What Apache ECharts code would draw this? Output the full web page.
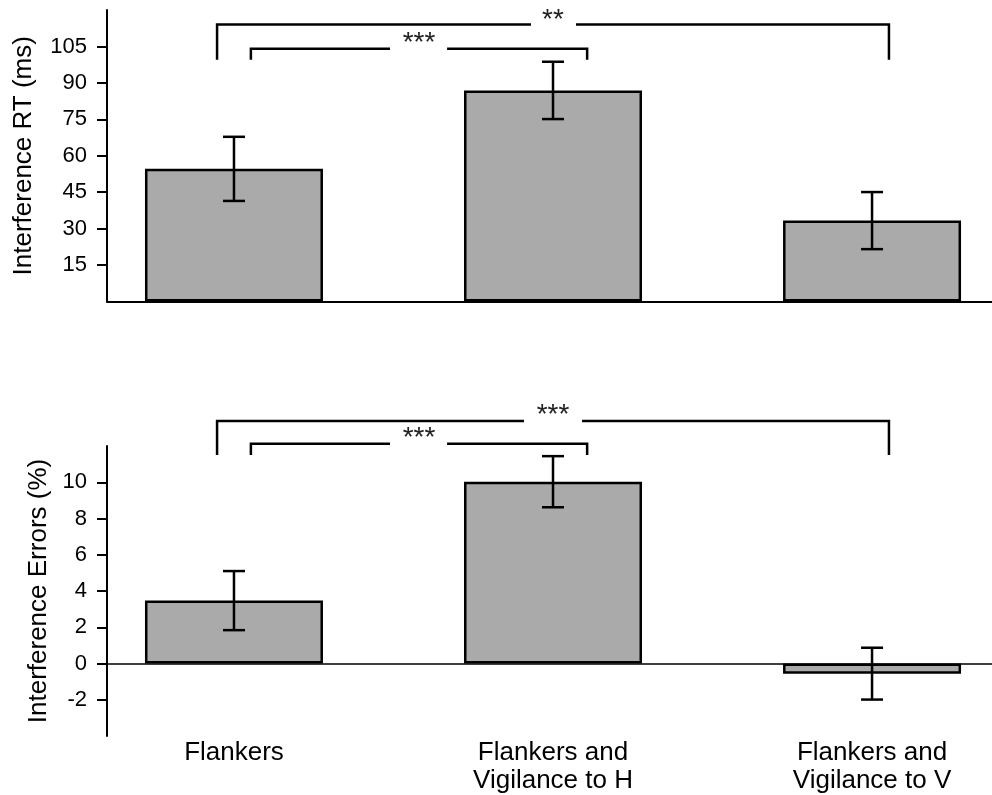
<!DOCTYPE html>
<html><head><meta charset="utf-8">
<script src="https://cdn.jsdelivr.net/npm/echarts@6/dist/echarts.min.js"></script>
<style>html,body{margin:0;padding:0;background:#fff}#c{width:992px;height:795px}</style>
</head><body><div id="c"></div>
<script>
const categories = ['Flankers', 'Flankers and\nVigilance to H', 'Flankers and\nVigilance to V'];
const rtMeans = [54.6, 86.9, 33.3];
const rtErr = [13.2, 11.8, 11.75];
const errMeans = [3.47, 10.03, -0.56];
const errErr = [1.63, 1.41, 1.43];
const rtTicks = [15, 30, 45, 60, 75, 90, 105];
const errTicks = [-2, 0, 2, 4, 6, 8, 10];
// brackets: [x1, x2, yLine, yEnd, gapStart, gapEnd]
const rtBrackets = [[-0.053, 2.053, 114, 99.5, 0.931, 1.072], [0.053, 1.107, 104, 99.5, 0.489, 0.668]];
const rtStars = [[1.0, 118.4, '**'], [0.58, 108.8, '***']];
const errBrackets = [[-0.053, 2.053, 13.38, 11.5, 0.909, 1.091], [0.053, 1.107, 12.12, 11.5, 0.489, 0.668]];
const errStars = [[1.0, 14.05, '***'], [0.58, 12.75, '***']];

const xMin = -0.398, xMax = 2.376;
const FONT = '"Liberation Sans", Arial, sans-serif';
const LW = 2.5;

function errRender(params, api) {
  const x = api.value(0), lo = api.value(1), hi = api.value(2);
  const pLo = api.coord([x, lo]), pHi = api.coord([x, hi]);
  const hw = 11;
  const st = {stroke: '#000', lineWidth: LW, fill: null};
  return {type: 'group', children: [
    {type: 'line', shape: {x1: pHi[0], y1: pHi[1], x2: pLo[0], y2: pLo[1]}, style: st},
    {type: 'line', shape: {x1: pHi[0] - hw, y1: pHi[1], x2: pHi[0] + hw, y2: pHi[1]}, style: st},
    {type: 'line', shape: {x1: pLo[0] - hw, y1: pLo[1], x2: pLo[0] + hw, y2: pLo[1]}, style: st}
  ]};
}
function bracketRender(params, api) {
  const x1 = api.value(0), x2 = api.value(1), yl = api.value(2), ye = api.value(3), g1 = api.value(4), g2 = api.value(5);
  const st = {stroke: '#000', lineWidth: LW, fill: null};
  return {type: 'group', children: [
    {type: 'polyline', shape: {points: [api.coord([x1, ye]), api.coord([x1, yl]), api.coord([g1, yl])]}, style: st},
    {type: 'polyline', shape: {points: [api.coord([g2, yl]), api.coord([x2, yl]), api.coord([x2, ye])]}, style: st}
  ]};
}
function starRender(arr) {
  return function (params, api) {
    const d = arr[params.dataIndex];
    const p = api.coord([d[0], d[1]]);
    return {type: 'text', x: p[0], y: p[1] + 6, style: {text: d[2], fontSize: 28, fontFamily: FONT, fill: '#222', align: 'center', verticalAlign: 'middle'}};
  };
}

const axisBlack = {color: '#000', width: 2};
const chart = echarts.init(document.getElementById('c'));
chart.setOption({
  animation: false,
  textStyle: {fontFamily: FONT},
  grid: [
    {left: 107, right: 0, top: 10, height: 291.5},
    {left: 107, right: 0, top: 446, height: 291}
  ],
  xAxis: [
    {gridIndex: 0, type: 'value', min: xMin, max: xMax,
     axisLine: {show: true, onZero: true, lineStyle: axisBlack},
     axisTick: {show: false}, axisLabel: {show: false}, splitLine: {show: false}},
    {gridIndex: 1, type: 'value', min: xMin, max: xMax, position: 'bottom',
     axisLine: {show: false, onZero: false}, axisTick: {show: false}, splitLine: {show: false},
     axisLabel: {customValues: [0, 1, 2], formatter: v => categories[Math.round(v)],
       fontSize: 26, lineHeight: 28, color: '#000', margin: 3, fontFamily: FONT}},
    {gridIndex: 1, type: 'value', min: xMin, max: xMax,
     axisLine: {show: true, onZero: true, lineStyle: {color: '#000', width: 1.5}},
     axisTick: {show: false}, axisLabel: {show: false}, splitLine: {show: false}}
  ],
  yAxis: [
    {gridIndex: 0, type: 'value', min: 0, max: 120,
     axisLine: {show: true, onZero: false, lineStyle: axisBlack},
     axisTick: {show: true, customValues: rtTicks, length: 10, lineStyle: axisBlack},
     axisLabel: {customValues: rtTicks, fontSize: 22, margin: 20, color: '#000', fontFamily: FONT},
     splitLine: {show: false},
     name: 'Interference RT (ms)', nameLocation: 'middle', nameGap: 70,
     nameTextStyle: {fontSize: 26, color: '#000', fontFamily: FONT}},
    {gridIndex: 1, type: 'value', min: -4, max: 12,
     axisLine: {show: true, onZero: false, lineStyle: axisBlack},
     axisTick: {show: true, customValues: errTicks, length: 10, lineStyle: axisBlack},
     axisLabel: {customValues: errTicks, fontSize: 22, margin: 20, color: '#000', fontFamily: FONT},
     splitLine: {show: false},
     name: 'Interference Errors (%)', nameLocation: 'middle', nameGap: 55,
     nameTextStyle: {fontSize: 26, color: '#000', fontFamily: FONT}}
  ],
  series: [
    {type: 'bar', xAxisIndex: 0, yAxisIndex: 0, barWidth: 178,
     data: rtMeans.map((v, i) => [i, v]),
     itemStyle: {color: '#aaaaaa', borderColor: '#000', borderWidth: 2.5}},
    {type: 'custom', xAxisIndex: 0, yAxisIndex: 0, renderItem: errRender,
     data: rtMeans.map((v, i) => [i, v - rtErr[i], v + rtErr[i]]), z: 5},
    {type: 'custom', xAxisIndex: 0, yAxisIndex: 0, renderItem: bracketRender, data: rtBrackets, z: 5},
    {type: 'custom', xAxisIndex: 0, yAxisIndex: 0, renderItem: starRender(rtStars),
     data: rtStars.map(d => [d[0], d[1]]), z: 6},
    {type: 'bar', xAxisIndex: 1, yAxisIndex: 1, barWidth: 178,
     data: errMeans.map((v, i) => [i, v]),
     itemStyle: {color: '#aaaaaa', borderColor: '#000', borderWidth: 2.5}},
    {type: 'custom', xAxisIndex: 1, yAxisIndex: 1, renderItem: errRender,
     data: errMeans.map((v, i) => [i, v - errErr[i], v + errErr[i]]), z: 5},
    {type: 'custom', xAxisIndex: 1, yAxisIndex: 1, renderItem: bracketRender, data: errBrackets, z: 5},
    {type: 'custom', xAxisIndex: 1, yAxisIndex: 1, renderItem: starRender(errStars),
     data: errStars.map(d => [d[0], d[1]]), z: 6}
  ]
});
</script>
</body></html>
